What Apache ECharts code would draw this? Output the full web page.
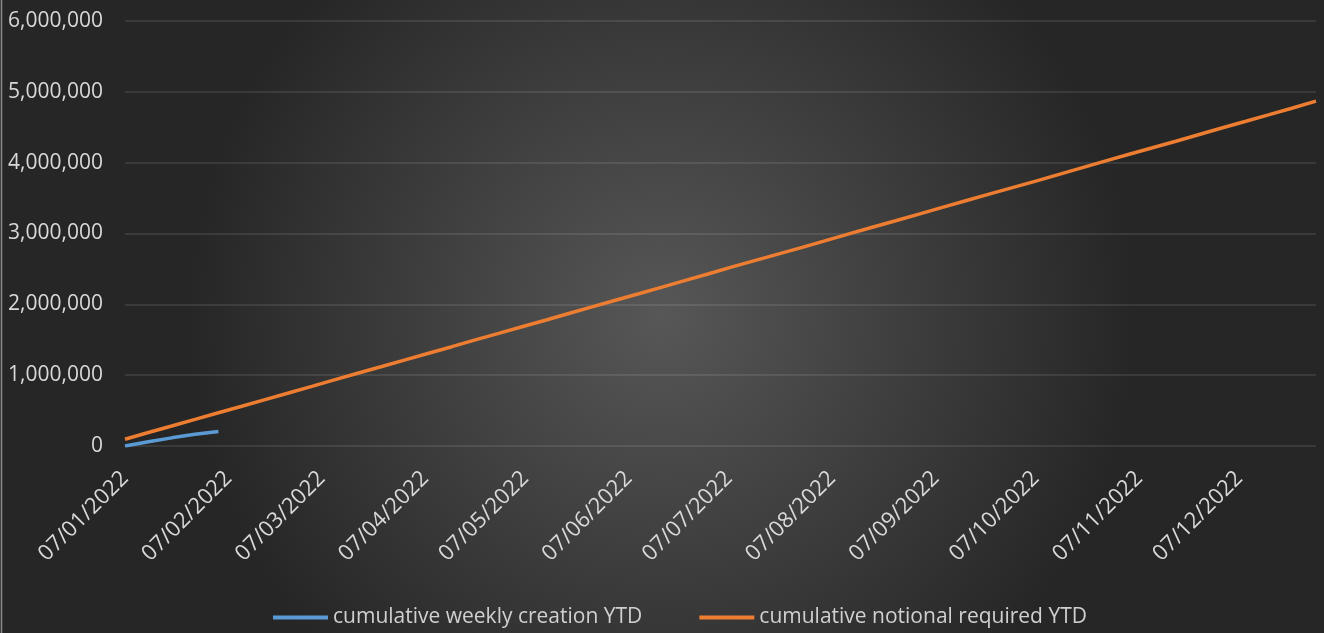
<!DOCTYPE html>
<html>
<head>
<meta charset="utf-8">
<script src="https://cdn.jsdelivr.net/npm/echarts@6/dist/echarts.min.js"></script>
<style>
html,body{margin:0;padding:0;background:#2a2a2a;}
#chart{width:1324px;height:633px;}
</style>
</head>
<body>
<div id="chart"></div>
<script>
// ---- data ----
const weeks = [
 '2022-01-07','2022-01-14','2022-01-21','2022-01-28','2022-02-04','2022-02-11','2022-02-18','2022-02-25',
 '2022-03-04','2022-03-11','2022-03-18','2022-03-25','2022-04-01','2022-04-08','2022-04-15','2022-04-22',
 '2022-04-29','2022-05-06','2022-05-13','2022-05-20','2022-05-27','2022-06-03','2022-06-10','2022-06-17',
 '2022-06-24','2022-07-01','2022-07-08','2022-07-15','2022-07-22','2022-07-29','2022-08-05','2022-08-12',
 '2022-08-19','2022-08-26','2022-09-02','2022-09-09','2022-09-16','2022-09-23','2022-09-30','2022-10-07',
 '2022-10-14','2022-10-21','2022-10-28','2022-11-04','2022-11-11','2022-11-18','2022-11-25','2022-12-02',
 '2022-12-09','2022-12-16','2022-12-23','2022-12-30'
];
const weeklyCreation = [0, 60000, 115000, 165000, 205000];
const notionalRequired = [
 95000, 190000, 282000, 375000, 470000, 562000, 655000, 748000,
 842000, 937000, 1030000, 1122000, 1215000, 1310000, 1402000, 1498000,
 1590000, 1683000, 1776000, 1870000, 1965000, 2058000, 2150000, 2243000,
 2338000, 2432000, 2528000, 2620000, 2712000, 2805000, 2900000, 2995000,
 3088000, 3180000, 3273000, 3368000, 3463000, 3556000, 3648000, 3740000,
 3835000, 3930000, 4025000, 4118000, 4210000, 4303000, 4398000, 4493000,
 4585000, 4678000, 4772000, 4868000
];
const tickDates = [
 '2022-01-07','2022-02-07','2022-03-07','2022-04-07','2022-05-07','2022-06-07',
 '2022-07-07','2022-08-07','2022-09-07','2022-10-07','2022-11-07','2022-12-07'
];
const seriesNames = ['cumulative weekly creation YTD', 'cumulative notional required YTD'];

// ---- helpers ----
function toTime(s){ const p = s.split('-').map(Number); return new Date(p[0], p[1]-1, p[2]).getTime(); }
function pad(n){ return (n < 10 ? '0' : '') + n; }
function fmtDate(v){ const d = new Date(v); return pad(d.getDate()) + '/' + pad(d.getMonth()+1) + '/' + d.getFullYear(); }

const font = 'Open Sans';
const chart = echarts.init(document.getElementById('chart'));
chart.setOption({
  animation: false,
  backgroundColor: {
    type: 'radial', x: 0.5, y: 0.5, r: 0.75,
    colorStops: [{offset: 0, color: '#575757'}, {offset: 1, color: '#262626'}]
  },
  textStyle: {fontFamily: font},
  grid: {left: 125, right: 8, top: 21, bottom: 187, containLabel: false, outerBoundsMode: 'none'},
  legend: {
    top: 602, left: 268,
    itemWidth: 55, itemHeight: 4, itemGap: 57, icon: 'rect',
    textStyle: {color: '#d0d0d0', fontSize: 21, fontFamily: font},
    data: seriesNames
  },
  xAxis: {
    type: 'value',
    min: toTime(weeks[0]), max: toTime(weeks[weeks.length-1]),
    axisLine: {show: false}, axisTick: {show: false},
    splitLine: {show: false},
    axisLabel: {
      customValues: tickDates.map(toTime),
      rotate: 45, margin: 29, color: '#d9d9d9', fontSize: 22, fontFamily: font,
      formatter: fmtDate
    }
  },
  yAxis: {
    type: 'value', min: 0, max: 6000000, interval: 1000000,
    axisLine: {show: false}, axisTick: {show: false},
    splitLine: {lineStyle: {color: 'rgba(255,255,255,0.13)', width: 1.5}},
    axisLabel: {
      color: '#d9d9d9', fontSize: 21, margin: 22, fontFamily: font,
      formatter: v => v.toLocaleString('en-US')
    }
  },
  series: [
    {
      name: seriesNames[0], type: 'line', showSymbol: false, symbol: 'none',
      data: weeklyCreation.map((v, i) => [toTime(weeks[i]), v]),
      lineStyle: {color: '#5B9BD5', width: 3.5}, itemStyle: {color: '#5B9BD5'}
    },
    {
      name: seriesNames[1], type: 'line', showSymbol: false, symbol: 'none',
      data: notionalRequired.map((v, i) => [toTime(weeks[i]), v]),
      lineStyle: {color: '#ED7D31', width: 3.5}, itemStyle: {color: '#ED7D31'}
    }
  ],
  graphic: [{
    type: 'line', shape: {x1: 1.5, y1: 0, x2: 1.5, y2: 633},
    style: {stroke: '#8a8a8a', lineWidth: 1.5}, silent: true
  }]
});
</script>
</body>
</html>
